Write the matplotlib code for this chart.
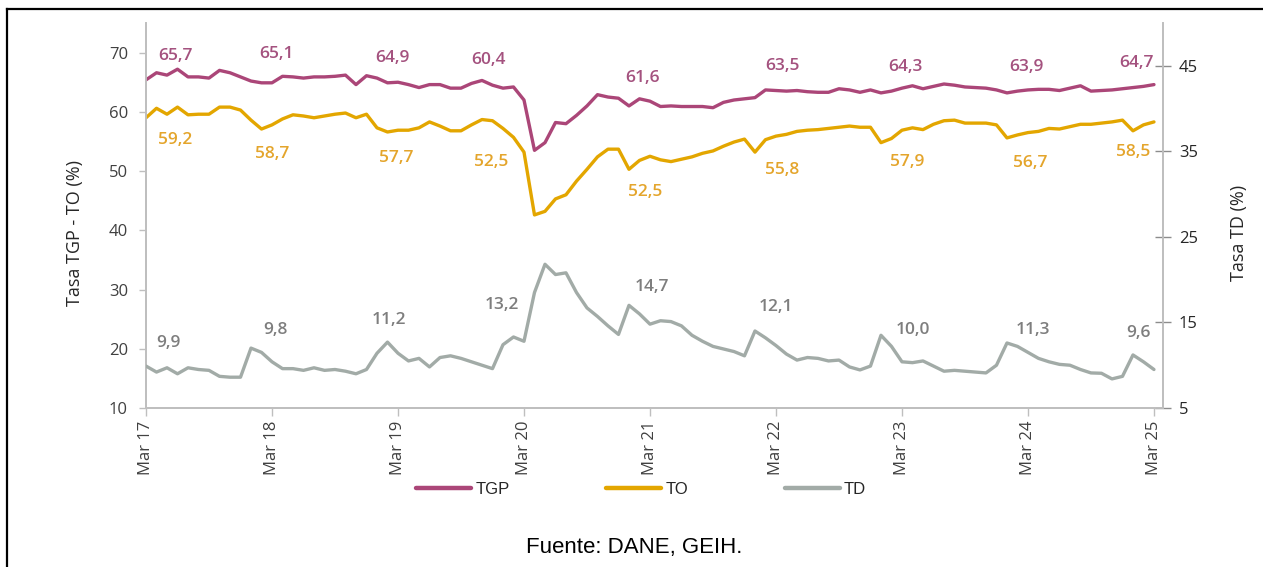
import matplotlib
matplotlib.use("Agg")
import matplotlib.pyplot as plt
from matplotlib.lines import Line2D
import numpy as np

# ---------------- data ----------------
tick_labels = ["Mar 17", "Mar 18", "Mar 19", "Mar 20", "Mar 21",
               "Mar 22", "Mar 23", "Mar 24", "Mar 25"]

tgp = [65.4, 66.6, 66.2, 67.2, 65.9, 65.9, 65.7, 67.0, 66.6, 65.9,
       65.2, 64.9, 64.9, 66.0, 65.9, 65.7, 65.9, 65.9, 66.0, 66.2,
       64.6, 66.1, 65.7, 64.9, 65.0, 64.6, 64.1, 64.6, 64.6, 64.0,
       64.0, 64.8, 65.3, 64.5, 64.0, 64.2, 62.0, 53.5, 54.8, 58.2,
       58.0, 59.4, 61.0, 62.9, 62.5, 62.3, 61.0, 62.2, 61.8, 60.9,
       61.0, 60.9, 60.9, 60.9, 60.7, 61.6, 62.0, 62.2, 62.4, 63.7,
       63.6, 63.5, 63.6, 63.4, 63.3, 63.3, 63.9, 63.7, 63.3, 63.7,
       63.2, 63.5, 64.0, 64.4, 63.9, 64.3, 64.7, 64.5, 64.2, 64.1,
       64.0, 63.7, 63.2, 63.5, 63.7, 63.8, 63.8, 63.6, 64.0, 64.4,
       63.5, 63.6, 63.7, 63.9, 64.1, 64.3, 64.6]

to = [59.0, 60.6, 59.6, 60.8, 59.5, 59.6, 59.6, 60.8, 60.8, 60.3,
      58.6, 57.1, 57.8, 58.8, 59.5, 59.3, 59.0, 59.3, 59.6, 59.8,
      59.0, 59.6, 57.3, 56.6, 56.9, 56.9, 57.3, 58.3, 57.6, 56.8,
      56.8, 57.8, 58.7, 58.5, 57.2, 55.7, 53.2, 42.6, 43.2, 45.3,
      46.0, 48.3, 50.3, 52.4, 53.7, 53.7, 50.3, 51.8, 52.5, 51.9,
      51.6, 52.0, 52.4, 53.0, 53.4, 54.2, 54.9, 55.4, 53.2, 55.3,
      55.9, 56.2, 56.7, 56.9, 57.0, 57.2, 57.4, 57.6, 57.4, 57.4,
      54.8, 55.5, 56.9, 57.3, 57.0, 57.9, 58.5, 58.6, 58.1, 58.1,
      58.1, 57.8, 55.6, 56.1, 56.5, 56.7, 57.2, 57.1, 57.5, 57.9,
      57.9, 58.1, 58.3, 58.6, 56.8, 57.8, 58.3]

td = [9.9, 9.2, 9.7, 9.0, 9.7, 9.5, 9.4, 8.7, 8.6, 8.6,
      12.0, 11.5, 10.4, 9.6, 9.6, 9.4, 9.7, 9.4, 9.5, 9.3,
      9.0, 9.5, 11.4, 12.7, 11.4, 10.5, 10.8, 9.8, 10.9, 11.1,
      10.8, 10.4, 10.0, 9.6, 12.4, 13.3, 12.8, 18.5, 21.8, 20.6,
      20.8, 18.5, 16.7, 15.7, 14.6, 13.6, 17.0, 16.0, 14.8, 15.2,
      15.1, 14.6, 13.5, 12.8, 12.2, 11.9, 11.6, 11.1, 14.0, 13.2,
      12.3, 11.3, 10.6, 10.9, 10.8, 10.5, 10.6, 9.8, 9.45, 9.9,
      13.5, 12.2, 10.4, 10.3, 10.5, 9.9, 9.3, 9.4, 9.3, 9.2,
      9.1, 10.0, 12.6, 12.2, 11.5, 10.8, 10.4, 10.1, 10.0, 9.5,
      9.1, 9.06, 8.4, 8.7, 11.2, 10.4, 9.5]

tgp_labels = ["65,7", "65,1", "64,9", "60,4", "61,6", "63,5", "64,3", "63,9", "64,7"]
to_labels = ["59,2", "58,7", "57,7", "52,5", "52,5", "55,8", "57,9", "56,7", "58,5"]
td_labels = ["9,9", "9,8", "11,2", "13,2", "14,7", "12,1", "10,0", "11,3", "9,6"]

# label anchor positions (layout only)
tgp_lab_x = [2.8, 12.4, 23.5, 32.6, 47.3, 60.6, 72.3, 83.9, 94.3]
tgp_lab_y = [69.5, 69.7, 69.1, 68.7, 65.7, 67.7, 67.6, 67.6, 68.2]
to_lab_x = [2.8, 12.0, 23.8, 32.9, 47.5, 60.6, 72.5, 84.2, 94.0]
to_lab_y = [55.2, 52.9, 52.2, 51.5, 46.5, 50.2, 51.5, 51.4, 53.2]
td_lab_x = [2.1, 12.3, 23.1, 33.9, 48.2, 60.0, 73.0, 84.5, 94.5]
td_lab_y = [12.6, 14.1, 15.3, 17.0, 19.1, 16.8, 14.1, 14.1, 13.8]

# ---------------- style ----------------
C_TGP = "#ab4678"
C_TO = "#e3a600"
C_TD = "#a2aba7"
C_TGP_LAB = "#a4527f"
C_TO_LAB = "#e4a52c"
C_TD_LAB = "#7e7e7e"
SPINE = "#bfbfbf"
FONT = ["Open Sans", "DejaVu Sans"]

fig = plt.figure(figsize=(12.63, 5.67), dpi=100)
fig.patch.set_facecolor("white")
ax = fig.add_axes([146 / 1263, 1 - 408 / 567, (1163 - 146) / 1263, (408 - 23) / 567])
ax2 = ax.twinx()

months = np.arange(len(tgp))
l1, = ax.plot(months, tgp, color=C_TGP, lw=2.4, solid_joinstyle="round",
              solid_capstyle="round", zorder=3)
l2, = ax.plot(months, to, color=C_TO, lw=2.4, solid_joinstyle="round",
              solid_capstyle="round", zorder=3)
l3, = ax2.plot(months, td, color=C_TD, lw=2.4, solid_joinstyle="round",
               solid_capstyle="round", zorder=3)

ax.set_xlim(0, 96.86)
ax.set_ylim(10, 75)
ax2.set_ylim(5, 50)

ax.set_xticks(np.arange(0, 97, 12))
ax.set_xticklabels(tick_labels, rotation=90, fontsize=12, color="#404040", family=FONT)
ax.set_yticks(np.arange(10, 71, 10))
ax.set_yticklabels([str(v) for v in range(10, 71, 10)], fontsize=12, color="#404040", family=FONT)
ax2.set_yticks(np.arange(5, 46, 10))
ax2.set_yticklabels([str(v) for v in range(5, 46, 10)], fontsize=12, color="#262626", family=FONT)

ax.tick_params(axis="x", direction="out", length=6, width=1, color=SPINE, pad=3)
ax.tick_params(axis="y", direction="out", length=5, width=1, color=SPINE, pad=8)
ax2.tick_params(axis="y", direction="inout", length=11, width=1, color="#8c8c8c", pad=6)

for a in (ax, ax2):
    a.spines["top"].set_visible(False)
    for s in ("left", "right", "bottom"):
        a.spines[s].set_color(SPINE)
        a.spines[s].set_linewidth(1.3)
ax.patch.set_alpha(0)

ax.set_ylabel("Tasa TGP - TO (%)", fontsize=13, color="#262626", family=FONT)
ax.yaxis.set_label_coords(-0.061, 0.455)
ax2.set_ylabel("Tasa TD (%)", fontsize=13, color="#262626", family=FONT)
ax2.yaxis.set_label_coords(1.066, 0.455)

lab_kw = dict(ha="center", va="center", fontsize=12.5, fontweight="semibold", family=FONT)
for s, x, y in zip(tgp_labels, tgp_lab_x, tgp_lab_y):
    ax.text(x, y, s, color=C_TGP_LAB, **lab_kw)
for s, x, y in zip(to_labels, to_lab_x, to_lab_y):
    ax.text(x, y, s, color=C_TO_LAB, **lab_kw)
for s, x, y in zip(td_labels, td_lab_x, td_lab_y):
    ax2.text(x, y, s, color=C_TD_LAB, **lab_kw)

leg = fig.legend([l1, l2, l3], ["TGP", "TO", "TD"], loc="center",
                 bbox_to_anchor=(641 / 1263, 1 - 489 / 567), ncol=3, frameon=False,
                 handlelength=3.3, handletextpad=0.25, columnspacing=5.8,
                 prop={"family": ["Liberation Sans Narrow", "Liberation Sans"], "size": 12})
for h in leg.legend_handles:
    h.set_linewidth(3.2)
for t in leg.get_texts():
    t.set_color("#262626")

fig.text(634 / 1263, 1 - 548 / 567, "Fuente: DANE, GEIH.", ha="center", va="center",
         fontsize=16, family=["Liberation Sans", "DejaVu Sans"], color="black")

# frame lines (top and left)
fig.add_artist(Line2D([7 / 1263, 1.0], [1 - 9 / 567, 1 - 9 / 567], color="black", lw=1.6,
                      transform=fig.transFigure))
fig.add_artist(Line2D([7 / 1263, 7 / 1263], [1 - 9 / 567, 0.0], color="black", lw=1.6,
                      transform=fig.transFigure))

fig.savefig("out.png", dpi=100, facecolor="white")
